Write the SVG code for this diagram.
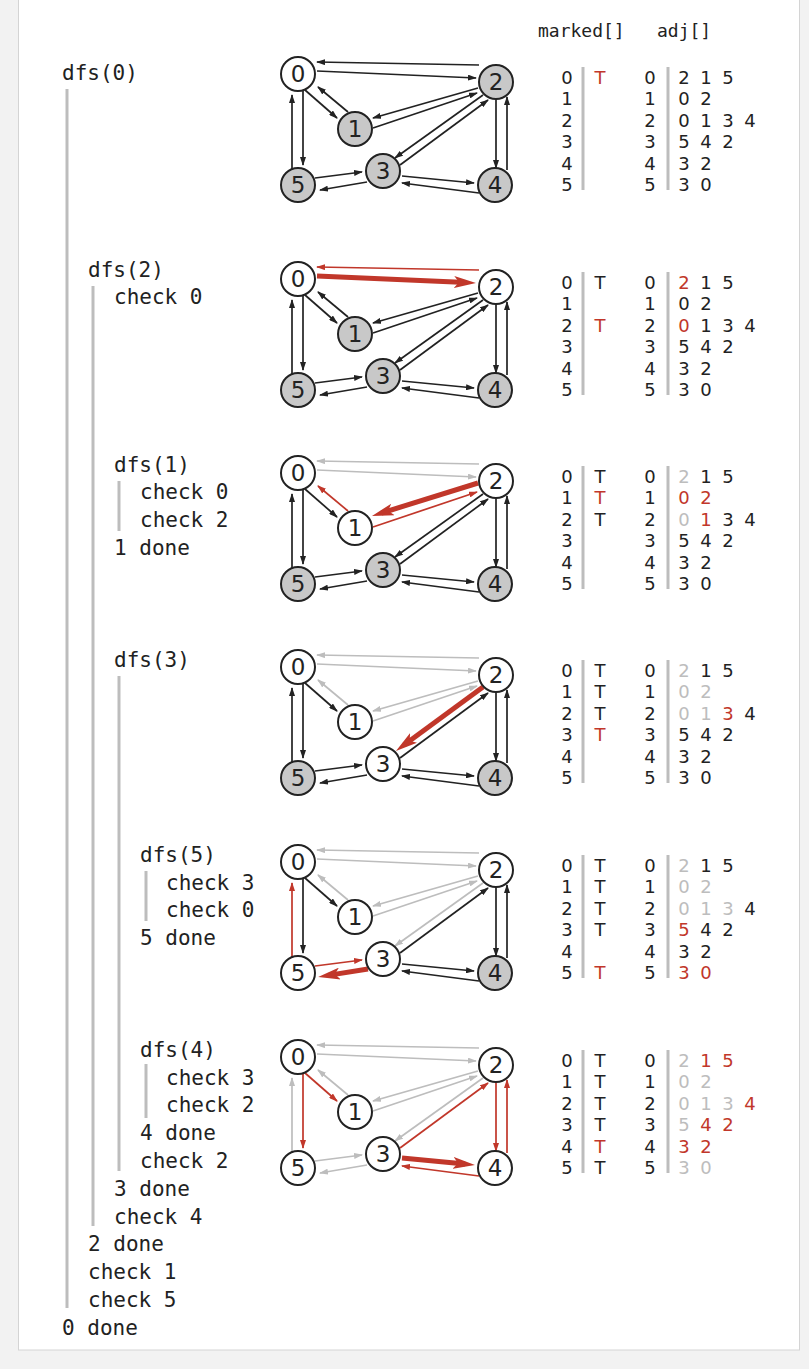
<svg xmlns="http://www.w3.org/2000/svg" width="809" height="1369" viewBox="0 0 809 1369">
<style>
.e{stroke:#222;stroke-width:1.7;fill:none;marker-end:url(#ak)}
.g{stroke:#bdbdbd;stroke-width:1.7;fill:none;marker-end:url(#ag)}
.r{stroke:#c1372a;stroke-width:1.7;fill:none;marker-end:url(#ar)}
.R{stroke:#c1372a;stroke-width:5;fill:none;marker-end:url(#aR)}
.w{fill:#fff;stroke:#222;stroke-width:2}
.k{fill:#c8c8c8;stroke:#222;stroke-width:2}
.nl{font-family:"DejaVu Sans",sans-serif;font-size:23px;text-anchor:middle;fill:#222}
.t{font-family:"DejaVu Sans",sans-serif;font-size:18px;text-anchor:middle;fill:#222}
.c{font-family:"DejaVu Sans Mono",monospace;font-size:21px;fill:#222}
.h{font-family:"DejaVu Sans Mono",monospace;font-size:18px;fill:#222}
.gr{fill:#bdbdbd}
.rd{fill:#c1372a}
.bar{stroke:#bdbdbd;stroke-width:3;fill:none}
</style>
<defs>
<marker id="ak" markerUnits="userSpaceOnUse" markerWidth="9" markerHeight="6" refX="8" refY="3" orient="auto"><path d="M0,0 L9,3 L0,6 z" fill="#222"/></marker>
<marker id="ag" markerUnits="userSpaceOnUse" markerWidth="9" markerHeight="6" refX="8" refY="3" orient="auto"><path d="M0,0 L9,3 L0,6 z" fill="#bdbdbd"/></marker>
<marker id="ar" markerUnits="userSpaceOnUse" markerWidth="9" markerHeight="6" refX="8" refY="3" orient="auto"><path d="M0,0 L9,3 L0,6 z" fill="#c1372a"/></marker>
<marker id="aR" markerUnits="userSpaceOnUse" markerWidth="22" markerHeight="12" refX="12" refY="6" orient="auto"><path d="M0,0 L22,6 L0,12 L5,6 z" fill="#c1372a"/></marker>
</defs>
<rect x="0" y="0" width="809" height="1369" fill="#f2f2f2"/>
<rect x="18.5" y="-2" width="781" height="1352" fill="#fff" stroke="#d4d4d4"/>

<text class="h" x="538" y="37">marked[]</text>
<text class="h" x="657" y="37">adj[]</text>

<g id="trace">
<line class="bar" x1="67" y1="89" x2="67" y2="1308"/>
<line class="bar" x1="93" y1="286" x2="93" y2="1226"/>
<line class="bar" x1="119" y1="481" x2="119" y2="531"/>
<line class="bar" x1="119" y1="676" x2="119" y2="1171"/>
<line class="bar" x1="146" y1="871" x2="146" y2="921"/>
<line class="bar" x1="146" y1="1064" x2="146" y2="1118"/>
<text class="c" x="62" y="80">dfs(0)</text>
<text class="c" x="88" y="277">dfs(2)</text>
<text class="c" x="114" y="304">check 0</text>
<text class="c" x="114" y="472">dfs(1)</text>
<text class="c" x="140" y="499">check 0</text>
<text class="c" x="140" y="527">check 2</text>
<text class="c" x="114" y="555">1 done</text>
<text class="c" x="114" y="667">dfs(3)</text>
<text class="c" x="140" y="862">dfs(5)</text>
<text class="c" x="166" y="890">check 3</text>
<text class="c" x="166" y="917">check 0</text>
<text class="c" x="140" y="945">5 done</text>
<text class="c" x="140" y="1057">dfs(4)</text>
<text class="c" x="166" y="1085">check 3</text>
<text class="c" x="166" y="1112">check 2</text>
<text class="c" x="140" y="1140">4 done</text>
<text class="c" x="140" y="1168">check 2</text>
<text class="c" x="114" y="1196">3 done</text>
<text class="c" x="114" y="1224">check 4</text>
<text class="c" x="88" y="1251">2 done</text>
<text class="c" x="88" y="1279">check 1</text>
<text class="c" x="88" y="1307">check 5</text>
<text class="c" x="62" y="1335">0 done</text>
</g>

<g id="panel1" transform="translate(0,74)">
<g id="p1-connectors">
<line class="e" x1="317" y1="-3" x2="476" y2="4"/>
<line class="e" x1="479" y1="-9" x2="317" y2="-12"/>
<line class="e" x1="305" y1="16" x2="337" y2="44"/>
<line class="e" x1="348" y1="38" x2="318" y2="13"/>
<line class="e" x1="303" y1="16" x2="303" y2="91"/>
<line class="e" x1="292" y1="96" x2="292" y2="21"/>
<line class="e" x1="478" y1="14" x2="373" y2="44"/>
<line class="e" x1="373" y1="54" x2="477" y2="19"/>
<line class="e" x1="483" y1="21" x2="395" y2="84"/>
<line class="e" x1="400" y1="91" x2="488" y2="26"/>
<line class="e" x1="496" y1="24" x2="496" y2="94"/>
<line class="e" x1="507" y1="96" x2="507" y2="23"/>
<line class="e" x1="315" y1="104" x2="362" y2="98"/>
<line class="e" x1="367" y1="108" x2="320" y2="116"/>
<line class="e" x1="402" y1="102" x2="474" y2="109"/>
<line class="e" x1="479" y1="119" x2="402" y2="109"/>
</g>
<g id="p1-n0"><circle class="w" cx="298" cy="0" r="17"/><text class="nl" x="298" y="8">0</text></g>
<g id="p1-n1"><circle class="k" cx="355" cy="55" r="17"/><text class="nl" x="355" y="63">1</text></g>
<g id="p1-n2"><circle class="k" cx="496" cy="8" r="17"/><text class="nl" x="496" y="16">2</text></g>
<g id="p1-n3"><circle class="k" cx="383" cy="97" r="17"/><text class="nl" x="383" y="105">3</text></g>
<g id="p1-n4"><circle class="k" cx="495" cy="111" r="17"/><text class="nl" x="495" y="119">4</text></g>
<g id="p1-n5"><circle class="k" cx="298" cy="111" r="17"/><text class="nl" x="298" y="119">5</text></g>
<g id="p1-table">
<line class="bar" x1="583" y1="-7" x2="583" y2="116"/>
<line class="bar" x1="668" y1="-7" x2="668" y2="116"/>
<text class="t" y="9.5"><tspan x="567">0</tspan><tspan x="600" class="rd">T</tspan><tspan x="650">0</tspan><tspan x="684">2</tspan><tspan x="706">1</tspan><tspan x="728">5</tspan></text>
<text class="t" y="31"><tspan x="567">1</tspan><tspan x="650">1</tspan><tspan x="684">0</tspan><tspan x="706">2</tspan></text>
<text class="t" y="52.5"><tspan x="567">2</tspan><tspan x="650">2</tspan><tspan x="684">0</tspan><tspan x="706">1</tspan><tspan x="728">3</tspan><tspan x="750">4</tspan></text>
<text class="t" y="74"><tspan x="567">3</tspan><tspan x="650">3</tspan><tspan x="684">5</tspan><tspan x="706">4</tspan><tspan x="728">2</tspan></text>
<text class="t" y="95.5"><tspan x="567">4</tspan><tspan x="650">4</tspan><tspan x="684">3</tspan><tspan x="706">2</tspan></text>
<text class="t" y="117"><tspan x="567">5</tspan><tspan x="650">5</tspan><tspan x="684">3</tspan><tspan x="706">0</tspan></text>
</g>
</g>

<g id="panel2" transform="translate(0,279)">
<g id="p2-connectors">
<line class="R" x1="317" y1="-3" x2="466" y2="3.6"/>
<line class="r" x1="479" y1="-9" x2="317" y2="-12"/>
<line class="e" x1="305" y1="16" x2="337" y2="44"/>
<line class="e" x1="348" y1="38" x2="318" y2="13"/>
<line class="e" x1="303" y1="16" x2="303" y2="91"/>
<line class="e" x1="292" y1="96" x2="292" y2="21"/>
<line class="e" x1="478" y1="14" x2="373" y2="44"/>
<line class="e" x1="373" y1="54" x2="477" y2="19"/>
<line class="e" x1="483" y1="21" x2="395" y2="84"/>
<line class="e" x1="400" y1="91" x2="488" y2="26"/>
<line class="e" x1="496" y1="24" x2="496" y2="94"/>
<line class="e" x1="507" y1="96" x2="507" y2="23"/>
<line class="e" x1="315" y1="104" x2="362" y2="98"/>
<line class="e" x1="367" y1="108" x2="320" y2="116"/>
<line class="e" x1="402" y1="102" x2="474" y2="109"/>
<line class="e" x1="479" y1="119" x2="402" y2="109"/>
</g>
<g id="p2-n0"><circle class="w" cx="298" cy="0" r="17"/><text class="nl" x="298" y="8">0</text></g>
<g id="p2-n1"><circle class="k" cx="355" cy="55" r="17"/><text class="nl" x="355" y="63">1</text></g>
<g id="p2-n2"><circle class="w" cx="496" cy="8" r="17"/><text class="nl" x="496" y="16">2</text></g>
<g id="p2-n3"><circle class="k" cx="383" cy="97" r="17"/><text class="nl" x="383" y="105">3</text></g>
<g id="p2-n4"><circle class="k" cx="495" cy="111" r="17"/><text class="nl" x="495" y="119">4</text></g>
<g id="p2-n5"><circle class="k" cx="298" cy="111" r="17"/><text class="nl" x="298" y="119">5</text></g>
<g id="p2-table">
<line class="bar" x1="583" y1="-7" x2="583" y2="116"/>
<line class="bar" x1="668" y1="-7" x2="668" y2="116"/>
<text class="t" y="9.5"><tspan x="567">0</tspan><tspan x="600">T</tspan><tspan x="650">0</tspan><tspan x="684" class="rd">2</tspan><tspan x="706">1</tspan><tspan x="728">5</tspan></text>
<text class="t" y="31"><tspan x="567">1</tspan><tspan x="650">1</tspan><tspan x="684">0</tspan><tspan x="706">2</tspan></text>
<text class="t" y="52.5"><tspan x="567">2</tspan><tspan x="600" class="rd">T</tspan><tspan x="650">2</tspan><tspan x="684" class="rd">0</tspan><tspan x="706">1</tspan><tspan x="728">3</tspan><tspan x="750">4</tspan></text>
<text class="t" y="74"><tspan x="567">3</tspan><tspan x="650">3</tspan><tspan x="684">5</tspan><tspan x="706">4</tspan><tspan x="728">2</tspan></text>
<text class="t" y="95.5"><tspan x="567">4</tspan><tspan x="650">4</tspan><tspan x="684">3</tspan><tspan x="706">2</tspan></text>
<text class="t" y="117"><tspan x="567">5</tspan><tspan x="650">5</tspan><tspan x="684">3</tspan><tspan x="706">0</tspan></text>
</g>
</g>

<g id="panel3" transform="translate(0,473)">
<g id="p3-connectors">
<line class="g" x1="317" y1="-3" x2="476" y2="4"/>
<line class="g" x1="479" y1="-9" x2="317" y2="-12"/>
<line class="e" x1="305" y1="16" x2="337" y2="44"/>
<line class="r" x1="348" y1="38" x2="318" y2="13"/>
<line class="e" x1="303" y1="16" x2="303" y2="91"/>
<line class="e" x1="292" y1="96" x2="292" y2="21"/>
<line class="R" x1="478" y1="10" x2="381.5" y2="40"/>
<line class="r" x1="373" y1="54" x2="477" y2="19"/>
<line class="e" x1="483" y1="21" x2="395" y2="84"/>
<line class="e" x1="400" y1="91" x2="488" y2="26"/>
<line class="e" x1="496" y1="24" x2="496" y2="94"/>
<line class="e" x1="507" y1="96" x2="507" y2="23"/>
<line class="e" x1="315" y1="104" x2="362" y2="98"/>
<line class="e" x1="367" y1="108" x2="320" y2="116"/>
<line class="e" x1="402" y1="102" x2="474" y2="109"/>
<line class="e" x1="479" y1="119" x2="402" y2="109"/>
</g>
<g id="p3-n0"><circle class="w" cx="298" cy="0" r="17"/><text class="nl" x="298" y="8">0</text></g>
<g id="p3-n1"><circle class="w" cx="355" cy="55" r="17"/><text class="nl" x="355" y="63">1</text></g>
<g id="p3-n2"><circle class="w" cx="496" cy="8" r="17"/><text class="nl" x="496" y="16">2</text></g>
<g id="p3-n3"><circle class="k" cx="383" cy="97" r="17"/><text class="nl" x="383" y="105">3</text></g>
<g id="p3-n4"><circle class="k" cx="495" cy="111" r="17"/><text class="nl" x="495" y="119">4</text></g>
<g id="p3-n5"><circle class="k" cx="298" cy="111" r="17"/><text class="nl" x="298" y="119">5</text></g>
<g id="p3-table">
<line class="bar" x1="583" y1="-7" x2="583" y2="116"/>
<line class="bar" x1="668" y1="-7" x2="668" y2="116"/>
<text class="t" y="9.5"><tspan x="567">0</tspan><tspan x="600">T</tspan><tspan x="650">0</tspan><tspan x="684" class="gr">2</tspan><tspan x="706">1</tspan><tspan x="728">5</tspan></text>
<text class="t" y="31"><tspan x="567">1</tspan><tspan x="600" class="rd">T</tspan><tspan x="650">1</tspan><tspan x="684" class="rd">0</tspan><tspan x="706" class="rd">2</tspan></text>
<text class="t" y="52.5"><tspan x="567">2</tspan><tspan x="600">T</tspan><tspan x="650">2</tspan><tspan x="684" class="gr">0</tspan><tspan x="706" class="rd">1</tspan><tspan x="728">3</tspan><tspan x="750">4</tspan></text>
<text class="t" y="74"><tspan x="567">3</tspan><tspan x="650">3</tspan><tspan x="684">5</tspan><tspan x="706">4</tspan><tspan x="728">2</tspan></text>
<text class="t" y="95.5"><tspan x="567">4</tspan><tspan x="650">4</tspan><tspan x="684">3</tspan><tspan x="706">2</tspan></text>
<text class="t" y="117"><tspan x="567">5</tspan><tspan x="650">5</tspan><tspan x="684">3</tspan><tspan x="706">0</tspan></text>
</g>
</g>

<g id="panel4" transform="translate(0,667)">
<g id="p4-connectors">
<line class="g" x1="317" y1="-3" x2="476" y2="4"/>
<line class="g" x1="479" y1="-9" x2="317" y2="-12"/>
<line class="e" x1="305" y1="16" x2="337" y2="44"/>
<line class="g" x1="348" y1="38" x2="318" y2="13"/>
<line class="e" x1="303" y1="16" x2="303" y2="91"/>
<line class="e" x1="292" y1="96" x2="292" y2="21"/>
<line class="g" x1="478" y1="14" x2="373" y2="44"/>
<line class="g" x1="373" y1="54" x2="477" y2="19"/>
<line class="R" x1="483" y1="20" x2="404" y2="78"/>
<line class="e" x1="400" y1="91" x2="488" y2="26"/>
<line class="e" x1="496" y1="24" x2="496" y2="94"/>
<line class="e" x1="507" y1="96" x2="507" y2="23"/>
<line class="e" x1="315" y1="104" x2="362" y2="98"/>
<line class="e" x1="367" y1="108" x2="320" y2="116"/>
<line class="e" x1="402" y1="102" x2="474" y2="109"/>
<line class="e" x1="479" y1="119" x2="402" y2="109"/>
</g>
<g id="p4-n0"><circle class="w" cx="298" cy="0" r="17"/><text class="nl" x="298" y="8">0</text></g>
<g id="p4-n1"><circle class="w" cx="355" cy="55" r="17"/><text class="nl" x="355" y="63">1</text></g>
<g id="p4-n2"><circle class="w" cx="496" cy="8" r="17"/><text class="nl" x="496" y="16">2</text></g>
<g id="p4-n3"><circle class="w" cx="383" cy="97" r="17"/><text class="nl" x="383" y="105">3</text></g>
<g id="p4-n4"><circle class="k" cx="495" cy="111" r="17"/><text class="nl" x="495" y="119">4</text></g>
<g id="p4-n5"><circle class="k" cx="298" cy="111" r="17"/><text class="nl" x="298" y="119">5</text></g>
<g id="p4-table">
<line class="bar" x1="583" y1="-7" x2="583" y2="116"/>
<line class="bar" x1="668" y1="-7" x2="668" y2="116"/>
<text class="t" y="9.5"><tspan x="567">0</tspan><tspan x="600">T</tspan><tspan x="650">0</tspan><tspan x="684" class="gr">2</tspan><tspan x="706">1</tspan><tspan x="728">5</tspan></text>
<text class="t" y="31"><tspan x="567">1</tspan><tspan x="600">T</tspan><tspan x="650">1</tspan><tspan x="684" class="gr">0</tspan><tspan x="706" class="gr">2</tspan></text>
<text class="t" y="52.5"><tspan x="567">2</tspan><tspan x="600">T</tspan><tspan x="650">2</tspan><tspan x="684" class="gr">0</tspan><tspan x="706" class="gr">1</tspan><tspan x="728" class="rd">3</tspan><tspan x="750">4</tspan></text>
<text class="t" y="74"><tspan x="567">3</tspan><tspan x="600" class="rd">T</tspan><tspan x="650">3</tspan><tspan x="684">5</tspan><tspan x="706">4</tspan><tspan x="728">2</tspan></text>
<text class="t" y="95.5"><tspan x="567">4</tspan><tspan x="650">4</tspan><tspan x="684">3</tspan><tspan x="706">2</tspan></text>
<text class="t" y="117"><tspan x="567">5</tspan><tspan x="650">5</tspan><tspan x="684">3</tspan><tspan x="706">0</tspan></text>
</g>
</g>

<g id="panel5" transform="translate(0,862)">
<g id="p5-connectors">
<line class="g" x1="317" y1="-3" x2="476" y2="4"/>
<line class="g" x1="479" y1="-9" x2="317" y2="-12"/>
<line class="e" x1="305" y1="16" x2="337" y2="44"/>
<line class="g" x1="348" y1="38" x2="318" y2="13"/>
<line class="e" x1="303" y1="16" x2="303" y2="91"/>
<line class="r" x1="292" y1="96" x2="292" y2="21"/>
<line class="g" x1="478" y1="14" x2="373" y2="44"/>
<line class="g" x1="373" y1="54" x2="477" y2="19"/>
<line class="g" x1="483" y1="21" x2="395" y2="84"/>
<line class="e" x1="400" y1="91" x2="488" y2="26"/>
<line class="e" x1="496" y1="24" x2="496" y2="94"/>
<line class="e" x1="507" y1="96" x2="507" y2="23"/>
<line class="r" x1="315" y1="104" x2="362" y2="98"/>
<line class="R" x1="368" y1="107" x2="328" y2="113.4"/>
<line class="e" x1="402" y1="102" x2="474" y2="109"/>
<line class="e" x1="479" y1="119" x2="402" y2="109"/>
</g>
<g id="p5-n0"><circle class="w" cx="298" cy="0" r="17"/><text class="nl" x="298" y="8">0</text></g>
<g id="p5-n1"><circle class="w" cx="355" cy="55" r="17"/><text class="nl" x="355" y="63">1</text></g>
<g id="p5-n2"><circle class="w" cx="496" cy="8" r="17"/><text class="nl" x="496" y="16">2</text></g>
<g id="p5-n3"><circle class="w" cx="383" cy="97" r="17"/><text class="nl" x="383" y="105">3</text></g>
<g id="p5-n4"><circle class="k" cx="495" cy="111" r="17"/><text class="nl" x="495" y="119">4</text></g>
<g id="p5-n5"><circle class="w" cx="298" cy="111" r="17"/><text class="nl" x="298" y="119">5</text></g>
<g id="p5-table">
<line class="bar" x1="583" y1="-7" x2="583" y2="116"/>
<line class="bar" x1="668" y1="-7" x2="668" y2="116"/>
<text class="t" y="9.5"><tspan x="567">0</tspan><tspan x="600">T</tspan><tspan x="650">0</tspan><tspan x="684" class="gr">2</tspan><tspan x="706">1</tspan><tspan x="728">5</tspan></text>
<text class="t" y="31"><tspan x="567">1</tspan><tspan x="600">T</tspan><tspan x="650">1</tspan><tspan x="684" class="gr">0</tspan><tspan x="706" class="gr">2</tspan></text>
<text class="t" y="52.5"><tspan x="567">2</tspan><tspan x="600">T</tspan><tspan x="650">2</tspan><tspan x="684" class="gr">0</tspan><tspan x="706" class="gr">1</tspan><tspan x="728" class="gr">3</tspan><tspan x="750">4</tspan></text>
<text class="t" y="74"><tspan x="567">3</tspan><tspan x="600">T</tspan><tspan x="650">3</tspan><tspan x="684" class="rd">5</tspan><tspan x="706">4</tspan><tspan x="728">2</tspan></text>
<text class="t" y="95.5"><tspan x="567">4</tspan><tspan x="650">4</tspan><tspan x="684">3</tspan><tspan x="706">2</tspan></text>
<text class="t" y="117"><tspan x="567">5</tspan><tspan x="600" class="rd">T</tspan><tspan x="650">5</tspan><tspan x="684" class="rd">3</tspan><tspan x="706" class="rd">0</tspan></text>
</g>
</g>

<g id="panel6" transform="translate(0,1057)">
<g id="p6-connectors">
<line class="g" x1="317" y1="-3" x2="476" y2="4"/>
<line class="g" x1="479" y1="-9" x2="317" y2="-12"/>
<line class="r" x1="305" y1="16" x2="337" y2="44"/>
<line class="g" x1="348" y1="38" x2="318" y2="13"/>
<line class="r" x1="303" y1="16" x2="303" y2="91"/>
<line class="g" x1="292" y1="96" x2="292" y2="21"/>
<line class="g" x1="478" y1="14" x2="373" y2="44"/>
<line class="g" x1="373" y1="54" x2="477" y2="19"/>
<line class="g" x1="483" y1="21" x2="395" y2="84"/>
<line class="r" x1="400" y1="91" x2="488" y2="26"/>
<line class="r" x1="496" y1="24" x2="496" y2="94"/>
<line class="r" x1="507" y1="96" x2="507" y2="23"/>
<line class="g" x1="315" y1="104" x2="362" y2="98"/>
<line class="g" x1="367" y1="108" x2="320" y2="116"/>
<line class="R" x1="402" y1="101" x2="465" y2="107"/>
<line class="r" x1="479" y1="119" x2="402" y2="109"/>
</g>
<g id="p6-n0"><circle class="w" cx="298" cy="0" r="17"/><text class="nl" x="298" y="8">0</text></g>
<g id="p6-n1"><circle class="w" cx="355" cy="55" r="17"/><text class="nl" x="355" y="63">1</text></g>
<g id="p6-n2"><circle class="w" cx="496" cy="8" r="17"/><text class="nl" x="496" y="16">2</text></g>
<g id="p6-n3"><circle class="w" cx="383" cy="97" r="17"/><text class="nl" x="383" y="105">3</text></g>
<g id="p6-n4"><circle class="w" cx="495" cy="111" r="17"/><text class="nl" x="495" y="119">4</text></g>
<g id="p6-n5"><circle class="w" cx="298" cy="111" r="17"/><text class="nl" x="298" y="119">5</text></g>
<g id="p6-table">
<line class="bar" x1="583" y1="-7" x2="583" y2="116"/>
<line class="bar" x1="668" y1="-7" x2="668" y2="116"/>
<text class="t" y="9.5"><tspan x="567">0</tspan><tspan x="600">T</tspan><tspan x="650">0</tspan><tspan x="684" class="gr">2</tspan><tspan x="706" class="rd">1</tspan><tspan x="728" class="rd">5</tspan></text>
<text class="t" y="31"><tspan x="567">1</tspan><tspan x="600">T</tspan><tspan x="650">1</tspan><tspan x="684" class="gr">0</tspan><tspan x="706" class="gr">2</tspan></text>
<text class="t" y="52.5"><tspan x="567">2</tspan><tspan x="600">T</tspan><tspan x="650">2</tspan><tspan x="684" class="gr">0</tspan><tspan x="706" class="gr">1</tspan><tspan x="728" class="gr">3</tspan><tspan x="750" class="rd">4</tspan></text>
<text class="t" y="74"><tspan x="567">3</tspan><tspan x="600">T</tspan><tspan x="650">3</tspan><tspan x="684" class="gr">5</tspan><tspan x="706" class="rd">4</tspan><tspan x="728" class="rd">2</tspan></text>
<text class="t" y="95.5"><tspan x="567">4</tspan><tspan x="600" class="rd">T</tspan><tspan x="650">4</tspan><tspan x="684" class="rd">3</tspan><tspan x="706" class="rd">2</tspan></text>
<text class="t" y="117"><tspan x="567">5</tspan><tspan x="600">T</tspan><tspan x="650">5</tspan><tspan x="684" class="gr">3</tspan><tspan x="706" class="gr">0</tspan></text>
</g>
</g>
</svg>
